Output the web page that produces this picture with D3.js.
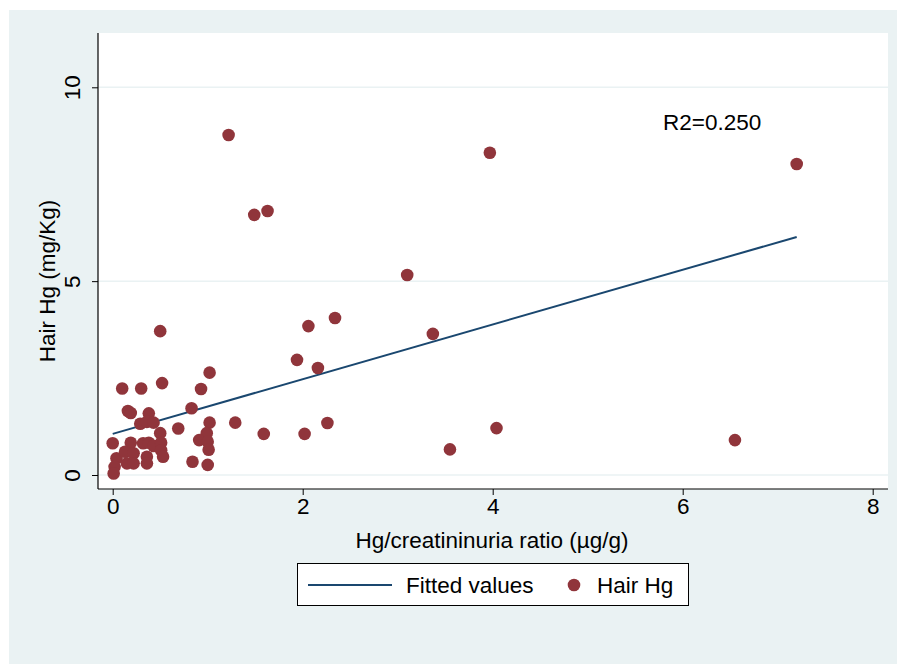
<!DOCTYPE html>
<html>
<head>
<meta charset="utf-8">
<script src="https://cdn.jsdelivr.net/npm/d3@7"></script>
<style>
  body { margin: 0; background: #fff; }
  svg text { font-family: "Liberation Sans", Arial, Helvetica, sans-serif; fill: #000; }
</style>
</head>
<body>
<svg width="897" height="664"></svg>
<script>
// Hg/creatininuria ratio (x) vs hair Hg (y)
var ratio = [1.22, 3.97, 7.20, 1.49, 1.63, 3.10, 2.34, 2.06, 0.50, 3.37,
  1.94, 2.16, 1.02, 0.52, 0.10, 0.30, 0.93, 0.83, 0.16, 0.19,
  0.38, 0.29, 0.36, 0.43, 0.69, 1.02, 1.29, 2.26, 4.04, 0.50,
  1.59, 2.02, 0.99, 0.00, 0.19, 0.32, 0.38, 0.43, 0.51, 0.51,
  0.91, 1.00, 6.55, 1.01, 3.55, 0.53, 0.04, 0.13, 0.22, 0.36,
  0.15, 0.22, 0.02, 0.01, 0.84, 1.00, 0.36];
var hairHg = [8.77, 8.31, 8.02, 6.71, 6.81, 5.16, 4.05, 3.84, 3.71, 3.64,
  2.97, 2.76, 2.64, 2.37, 2.23, 2.23, 2.22, 1.72, 1.65, 1.60,
  1.59, 1.32, 1.37, 1.35, 1.20, 1.35, 1.35, 1.34, 1.21, 1.08,
  1.06, 1.06, 1.08, 0.82, 0.83, 0.82, 0.83, 0.75, 0.83, 0.64,
  0.90, 0.86, 0.90, 0.65, 0.66, 0.47, 0.43, 0.60, 0.56, 0.47,
  0.30, 0.30, 0.21, 0.04, 0.34, 0.26, 0.30];
var fitX = [0, 7.2];
var fitY = [1.06, 6.14];
var xTicks = [0, 2, 4, 6, 8];
var yTicks = [0, 5, 10];
var r2Label = "R2=0.250";

var svg = d3.select("svg");
var navy = "#1a476f", maroon = "#90353b", bg = "#eaf2f3";
var fs = 22.5;

svg.append("rect").attr("x", 9).attr("y", 10).attr("width", 888).attr("height", 654).attr("fill", bg);
svg.append("rect").attr("x", 98).attr("y", 33).attr("width", 790).attr("height", 456).attr("fill", "#fff");

var x = d3.scaleLinear().domain([0, 8]).range([112.7, 872.7]);
var y = d3.scaleLinear().domain([0, 10]).range([475, 87.3]);

// grid
svg.append("g").selectAll("line").data(yTicks).enter().append("line")
  .attr("x1", 98).attr("x2", 888)
  .attr("y1", d => y(d)).attr("y2", d => y(d))
  .attr("stroke", bg).attr("stroke-width", 1.5);

// axes
var xAxis = svg.append("g").attr("transform", "translate(0,489)")
  .call(d3.axisBottom(x).tickValues(xTicks).tickSize(6).tickPadding(3).tickFormat(d3.format("d")));
xAxis.select(".domain").attr("d", "M98,0H888");
var yAxis = svg.append("g").attr("transform", "translate(98,0)")
  .call(d3.axisLeft(y).tickValues(yTicks).tickSize(6).tickFormat(d3.format("d")));
yAxis.select(".domain").attr("d", "M0,33V489");
svg.selectAll(".domain").attr("stroke", "#000").attr("stroke-width", 1.2);
svg.selectAll(".tick line").attr("stroke", "#000");
svg.selectAll(".tick text").attr("font-size", fs).attr("fill", "#000");
yAxis.selectAll(".tick text")
  .attr("x", null).attr("dy", null)
  .attr("transform", "translate(-18,0) rotate(-90)")
  .attr("text-anchor", "middle");

// axis titles
svg.append("text").attr("x", 492).attr("y", 548).attr("text-anchor", "middle")
  .attr("font-size", fs).text("Hg/creatininuria ratio (µg/g)");
svg.append("text").attr("transform", "translate(55,281) rotate(-90)").attr("text-anchor", "middle")
  .attr("font-size", fs).text("Hair Hg (mg/Kg)");

// fitted line
svg.append("path").datum(d3.zip(fitX, fitY))
  .attr("d", d3.line().x(d => x(d[0])).y(d => y(d[1])))
  .attr("fill", "none").attr("stroke", navy).attr("stroke-width", 2);

// points
svg.append("g").selectAll("circle").data(d3.zip(ratio, hairHg)).enter().append("circle")
  .attr("cx", d => x(d[0])).attr("cy", d => y(d[1])).attr("r", 6.3)
  .attr("fill", maroon);

svg.append("text").attr("x", x(6.31)).attr("y", y(9.1) + 8).attr("text-anchor", "middle")
  .attr("font-size", fs).text(r2Label);

// legend
var lg = svg.append("g");
lg.append("rect").attr("x", 297.5).attr("y", 563.5).attr("width", 391).attr("height", 42)
  .attr("fill", "#fff").attr("stroke", "#000").attr("stroke-width", 1);
lg.append("line").attr("x1", 308).attr("x2", 392).attr("y1", 585).attr("y2", 585)
  .attr("stroke", navy).attr("stroke-width", 2);
lg.append("text").attr("x", 406).attr("y", 593).attr("font-size", fs).text("Fitted values");
lg.append("circle").attr("cx", 574).attr("cy", 585).attr("r", 6.3).attr("fill", maroon);
lg.append("text").attr("x", 597).attr("y", 593).attr("font-size", fs).text("Hair Hg");
</script>
</body>
</html>
